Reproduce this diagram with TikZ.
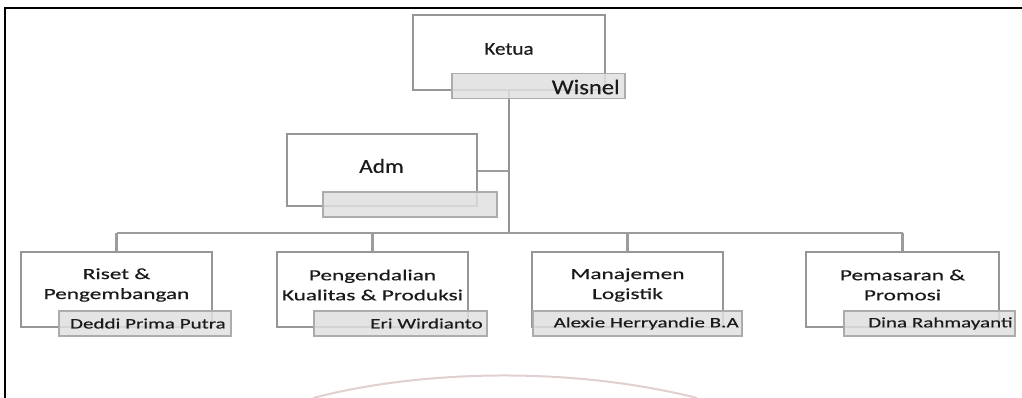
\documentclass[tikz,border=0pt]{standalone}
\usepackage{fontspec}
\setmainfont{Carlito}
\newfontfamily\wideface{Carlito}[FakeStretch=1.45, FakeBold=0.4]
\newfontfamily\unitface{Carlito}[FakeStretch=1.5, FakeBold=0.4]
\newfontfamily\topface{Carlito}[FakeStretch=1.17, FakeBold=0.3]
\definecolor{boxline}{HTML}{969696}
\definecolor{subfill}{HTML}{E0E0E0}
\definecolor{subline}{HTML}{ACACAC}
\definecolor{linkline}{HTML}{9C9C9C}
\definecolor{inktext}{HTML}{1A1A1A}
\begin{document}
\begin{tikzpicture}[
    x=1pt, y=-1pt,
    unitbox/.style={rectangle, draw=boxline, line width=2pt, fill=white, minimum height=75pt, inner sep=0pt},
    namebox/.style={rectangle, draw=subline, line width=1.8pt, fill=subfill, fill opacity=0.85, minimum height=25pt, inner sep=0pt},
    unittext/.style={align=center, text=inktext, font=\unitface\fontsize{15.5}{20}\selectfont},
    nametext/.style={anchor=east, text=inktext, inner sep=0pt, font=\wideface\fontsize{14.5}{17}\selectfont},
    link/.style={draw=linkline, line width=2.2pt}
]
\useasboundingbox (0,0) rectangle (1022,398);

% Rahmen und Wasserzeichen
\draw[line width=2.5pt] (5,398) -- (5,8) -- (1022,8);
\draw[red!25!gray, opacity=0.3, line width=2pt] (313,398) .. controls (420,370) and (570,366) .. (697,398);

% Kotak utama
\node[unitbox, minimum width=192pt] (ketua) at (509,52.5) {};
\node[unitbox, minimum width=190pt, minimum height=72pt] (adm) at (381.5,170) {};
\node[unitbox, minimum width=191pt] (riset) at (116.5,289.5) {};
\node[unitbox, minimum width=191pt] (mutu) at (372.5,289.5) {};
\node[unitbox, minimum width=191pt] (logistik) at (627.5,289.5) {};
\node[unitbox, minimum width=193pt] (pasar) at (902.5,289.5) {};

% Garis penghubung
\coordinate (bus) at (509,233);
\coordinate (busL) at (116.5,233);
\coordinate (busR) at (902.5,233);
\coordinate (admjoin) at (509,171);
\draw[link, draw=gray!85] (ketua.south) -- (bus);
\draw[link] (adm.east |- admjoin) -- (admjoin);
\draw[link] (busL) -- (busR);
\foreach \unit in {riset, mutu, logistik, pasar}
  \draw[link] (\unit.north |- bus) -- (\unit.north);

% Kotak nama
\node[namebox, minimum width=173pt] (wisnel) at (538.5,86) {};
\node[namebox, minimum width=174pt] (admname) at (410,204.5) {};
\node[namebox, minimum width=172pt] (deddi) at (145,323.5) {};
\node[namebox, minimum width=173pt] (eri) at (400.5,323.5) {};
\node[namebox, minimum width=209pt] (alexie) at (637.5,323.5) {};
\node[namebox, minimum width=171pt] (dina) at (929.5,323.5) {};

% Teks jabatan
\node[text=inktext, font=\topface\fontsize{18}{20}\selectfont] (ketualbl) at (509,49) {Ketua};
\node[text=inktext, font=\topface\fontsize{20}{22}\selectfont] (admlbl) at (381.5,166) {Adm};
\node[unittext] (risetlbl) at (116.5,285) {Riset \&\\Pengembangan};
\node[unittext] (mutulbl) at (372.5,285) {Pengendalian\\Kualitas \& Produksi};
\node[unittext] (logistiklbl) at (627.5,285) {Manajemen\\Logistik};
\node[unittext] (pasarlbl) at (902.5,285) {Pemasaran \&\\Promosi};

% Teks nama
\node[nametext, font=\topface\fontsize{21}{22}\selectfont] (wisnellbl) at ([xshift=-6pt,yshift=-1pt]wisnel.east) {Wisnel};
\node[nametext] (deddilbl) at ([xshift=-6pt]deddi.east) {Deddi Prima Putra};
\node[nametext] (erilbl) at ([xshift=-5pt]eri.east) {Eri Wirdianto};
\node[nametext] (alexielbl) at ([xshift=-4pt]alexie.east) {Alexie Herryandie B.A};
\node[nametext] (dinalbl) at ([xshift=-3pt]dina.east) {Dina Rahmayanti};

\end{tikzpicture}
\end{document}
